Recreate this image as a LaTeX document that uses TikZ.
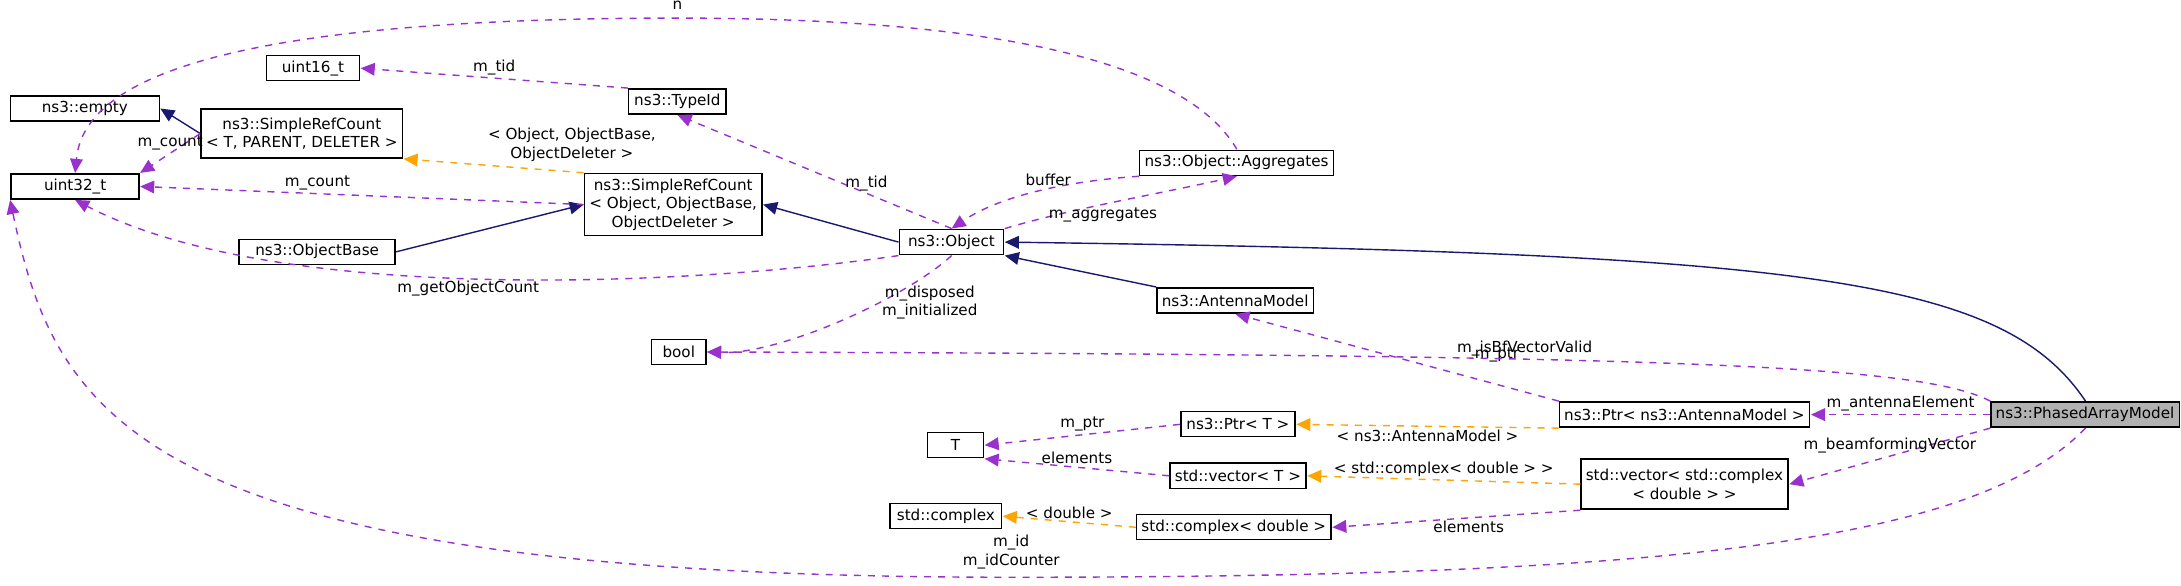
\documentclass[tikz,border=0pt]{standalone}
\usepackage{fontspec}
\setmainfont{DejaVu Sans}
\usetikzlibrary{arrows.meta}
\definecolor{inh}{RGB}{25,25,112}
\definecolor{usg}{RGB}{153,50,204}
\definecolor{tpl}{RGB}{255,165,0}
\tikzset{
  box/.style={draw, fill=white, inner sep=1pt, line width=0.4pt, minimum height=0.18cm, align=center, font=\fontsize{3.1}{3.8}\selectfont},
  lbl/.style={inner sep=0.5pt, align=center, font=\fontsize{3.1}{3.8}\selectfont},
  inherit/.style={draw=inh, -{Triangle[length=4pt,width=3.6pt,fill=inh]}, line width=0.4pt},
  uses/.style={draw=usg, dashed, dash pattern=on 2pt off 2pt, -{Triangle[length=4pt,width=3.6pt,fill=usg]}, line width=0.4pt},
  templ/.style={draw=tpl, dashed, dash pattern=on 2pt off 2pt, -{Triangle[length=4pt,width=3.6pt,fill=tpl]}, line width=0.4pt}
}
\begin{document}
\begin{tikzpicture}[x=0.01cm, y=-0.01cm, scale=1.391, every node/.append style={transform shape}]
  \useasboundingbox (0,0) rectangle (1568,420.6);

  % classes
  \node[box, minimum width=1.07cm] (empty) at (61,78) {ns3::empty};
  \node[box, minimum width=0.92cm] (uint32) at (54,134) {uint32\_t};
  \node[box, minimum width=0.67cm] (uint16) at (225,49) {uint16\_t};
  \node[box, minimum width=1.36cm, minimum height=0.35cm] (srcT) at (217,96) {ns3::SimpleRefCount\\\textless{} T, PARENT, DELETER \textgreater{}};
  \node[box, minimum width=1.12cm] (objbase) at (228,181) {ns3::ObjectBase};
  \node[box, minimum width=0.70cm] (typeid) at (487,73) {ns3::TypeId};
  \node[box, minimum width=1.13cm, minimum height=0.41cm] (srcO) at (484,147) {ns3::SimpleRefCount\\\textless{} Object, ObjectBase,\\ObjectDeleter \textgreater{}};
  \node[box, minimum width=0.75cm] (object) at (684,174) {ns3::Object};
  \node[box, minimum width=1.32cm] (aggr) at (889,117) {ns3::Object::Aggregates};
  \node[box, minimum width=0.39cm] (bool) at (488,253) {bool};
  \node[box, minimum width=1.12cm] (antenna) at (888,216) {ns3::AntennaModel};
  \node[box, minimum width=1.66cm] (ptrA) at (1211,298) {ns3::Ptr\textless{} ns3::AntennaModel \textgreater{}};
  \node[box, minimum width=1.29cm, fill=black!30] (phased) at (1499,298) {ns3::PhasedArrayModel};
  \node[box, minimum width=0.40cm] (T) at (687,320) {T};
  \node[box, minimum width=0.82cm] (ptrT) at (890,305) {ns3::Ptr\textless{} T \textgreater{}};
  \node[box, minimum width=0.95cm] (vecT) at (890,342) {std::vector\textless{} T \textgreater{}};
  \node[box, minimum width=1.36cm, minimum height=0.36cm] (vecC) at (1211,348) {std::vector\textless{} std::complex\\\textless{} double \textgreater{} \textgreater{}};
  \node[box, minimum width=0.80cm] (cplx) at (680,371) {std::complex};
  \node[box, minimum width=1.31cm] (cplxD) at (887,379) {std::complex\textless{} double \textgreater{}};

  % inheritance
  \draw[inherit] (srcT.west) -- (empty.east);
  \draw[inherit] (objbase.east) -- (srcO.west);
  \draw[inherit] (object.west) -- (srcO.east);
  \draw[inherit] (antenna.north west) -- (object.south east);
  \draw[inherit] (phased.north) .. controls (1440,200) and (1300,182) .. (object.east);

  % members
  \draw[uses] (srcT.west) -- node[lbl, above, pos=0.5] {m\_count} (uint32.north east);
  \draw[uses] (srcO.west) -- node[lbl, above, pos=0.6] {m\_count} (uint32.east);
  \draw[templ] (srcO.north west) -- node[lbl, above right, pos=0.55] {\textless{} Object, ObjectBase,\\ObjectDeleter \textgreater{}} (srcT.south east);
  \draw[uses] (typeid.north west) -- node[lbl, above, pos=0.5] {m\_tid} (uint16.east);
  \draw[uses] (object.north) -- node[lbl, right, pos=0.4] {m\_tid} (typeid.south);
  \draw[uses] (object.south west) .. controls (500,205) and (200,220) .. node[lbl, below, pos=0.52] {m\_getObjectCount} (uint32.south);
  \draw[uses] (object.south) .. controls (650,215) and (560,255) .. node[lbl, right, pos=0.35] {m\_disposed\\m\_initialized} (bool.east);
  \draw[uses] (aggr.south west) .. controls (770,130) and (720,140) .. node[lbl, above, pos=0.45] {buffer} (object.north);
  \draw[uses] (object.north east) .. controls (770,150) and (830,140) .. node[lbl, below, pos=0.45] {m\_aggregates} (aggr.south);
  \draw[uses] (aggr.north) .. controls (850,40) and (700,13) .. (487,13) node[lbl, above=1pt] {n} .. controls (150,13) and (60,60) .. (uint32.north);
  \draw[uses] (ptrA.north west) -- node[lbl, above right=2pt, pos=0.3] {m\_ptr} (antenna.south);
  \draw[uses] (phased.north west) .. controls (1380,262) and (1200,255) .. node[lbl, above, pos=0.62] {m\_isBfVectorValid} (bool.east);
  \draw[uses] (phased.west) -- node[lbl, above] {m\_antennaElement} (ptrA.east);
  \draw[uses] (phased.south west) -- node[lbl, above] {m\_beamformingVector} (vecC.east);
  \draw[uses] (phased.south) .. controls (1420,390) and (1200,415) .. (727,415) node[lbl, above=1pt] {m\_id\\m\_idCounter} .. controls (100,415) and (40,300) .. (uint32.south west);
  \draw[templ] (ptrA.south west) -- node[lbl, below, pos=0.5] {\textless{} ns3::AntennaModel \textgreater{}} (ptrT.east);
  \draw[uses] (ptrT.west) -- node[lbl, above] {m\_ptr} (T.east);
  \draw[uses] (vecT.west) -- node[lbl, above] {elements} (T.south east);
  \draw[templ] (vecC.west) -- node[lbl, above, pos=0.5] {\textless{} std::complex\textless{} double \textgreater{} \textgreater{}} (vecT.east);
  \draw[uses] (vecC.south west) -- node[lbl, below, pos=0.45] {elements} (cplxD.east);
  \draw[templ] (cplxD.west) -- node[lbl, above] {\textless{} double \textgreater{}} (cplx.east);
\end{tikzpicture}
\end{document}
